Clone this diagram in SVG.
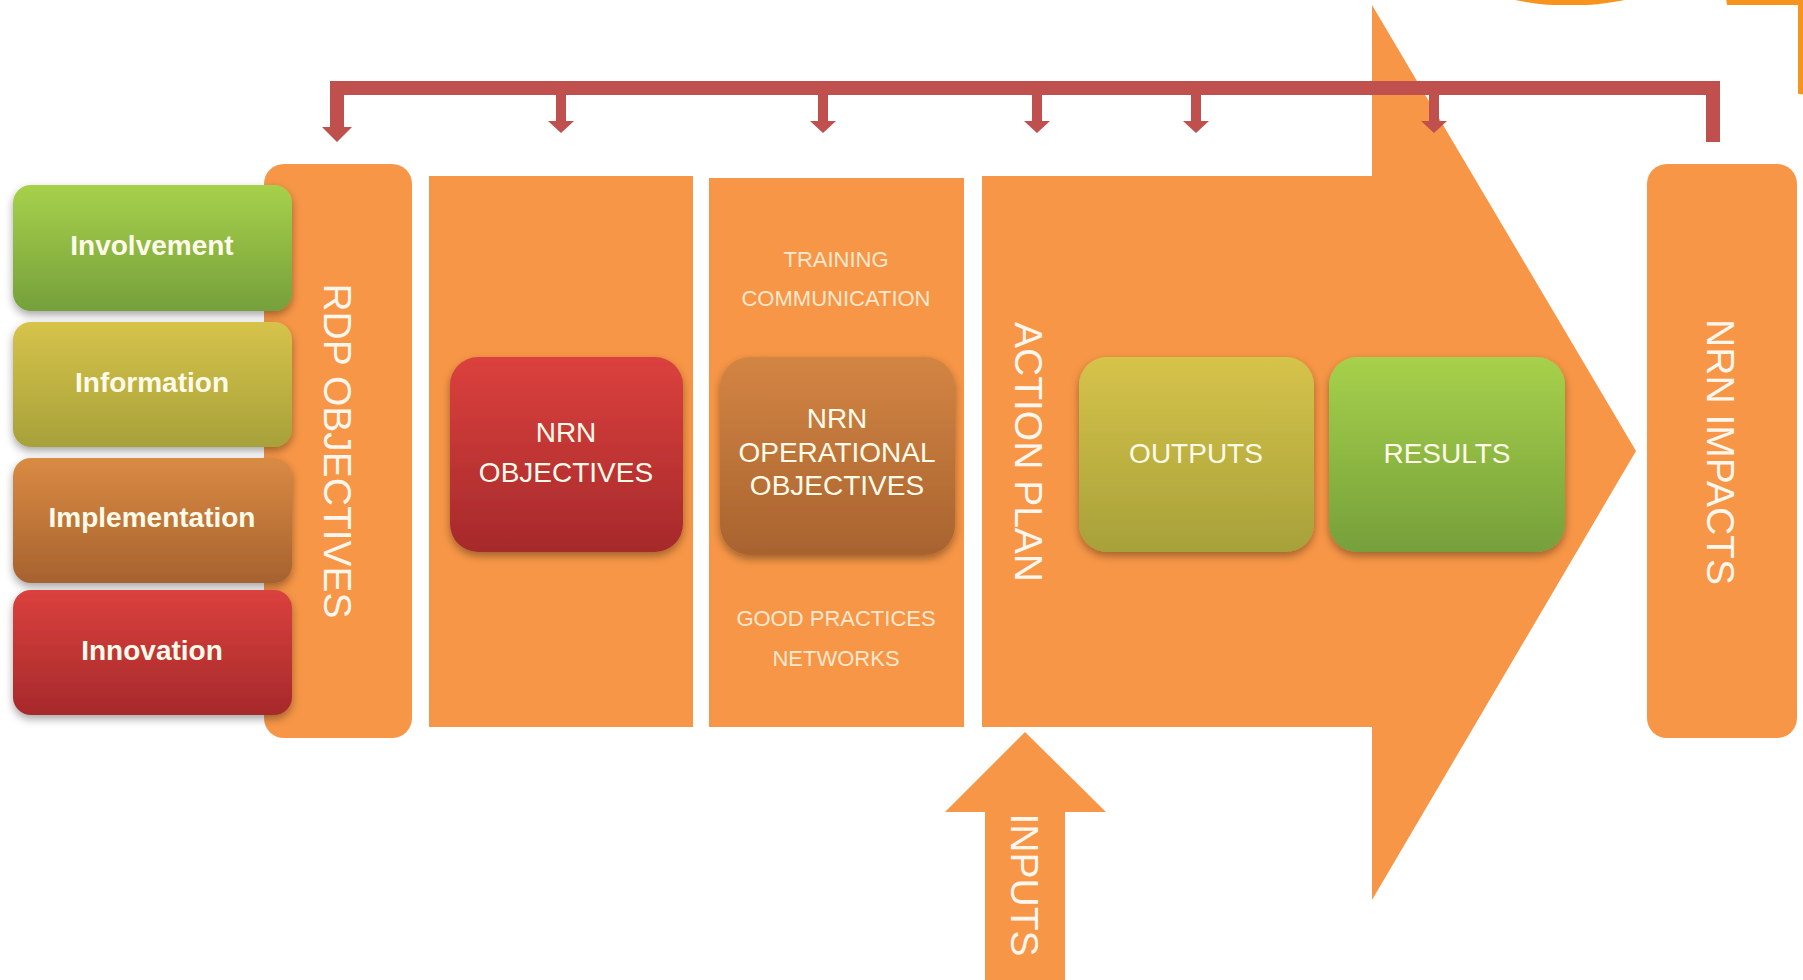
<svg xmlns="http://www.w3.org/2000/svg" width="1803" height="980" viewBox="0 0 1803 980">
<defs>
<style>
.org{fill:#f79646}
.brk{fill:#c0504d}
.lbl{font-family:"Liberation Sans",Arial,sans-serif;font-weight:bold;font-size:28px;fill:#fffbea;text-anchor:middle}
.box{font-family:"Liberation Sans",Arial,sans-serif;font-size:28px;fill:#fffbea;text-anchor:middle}
.small{font-family:"Liberation Sans",Arial,sans-serif;font-size:22px;fill:#fde8cf;text-anchor:middle}
.vert{font-family:"Liberation Sans",Arial,sans-serif;font-size:39px;fill:#fff6ee;text-anchor:middle}
</style>
<linearGradient id="gGreen" x1="0" y1="0" x2="0" y2="1"><stop offset="0" stop-color="#a7d14b"/><stop offset="1" stop-color="#75a03b"/></linearGradient>
<linearGradient id="gOlive" x1="0" y1="0" x2="0" y2="1"><stop offset="0" stop-color="#d6c34a"/><stop offset="1" stop-color="#a7a13a"/></linearGradient>
<linearGradient id="gBrown" x1="0" y1="0" x2="0" y2="1"><stop offset="0" stop-color="#da8b43"/><stop offset="1" stop-color="#a6622f"/></linearGradient>
<linearGradient id="gRed" x1="0" y1="0" x2="0" y2="1"><stop offset="0" stop-color="#db413d"/><stop offset="1" stop-color="#a6292b"/></linearGradient>
<linearGradient id="gOp" x1="0" y1="0" x2="0" y2="1"><stop offset="0" stop-color="#d38543"/><stop offset="1" stop-color="#a8632f"/></linearGradient>
<filter id="sh" x="-10%" y="-10%" width="120%" height="130%"><feDropShadow dx="0" dy="4" stdDeviation="4" flood-color="#000" flood-opacity="0.35"/></filter>
</defs>
<rect width="1803" height="980" fill="#ffffff"/>
<path d="M1515,0 Q1570,11 1625,0 Z" fill="#f7941d"/>
<ellipse cx="1810" cy="-20" rx="85" ry="115" fill="#f7941d"/>
<rect x="0" y="5" width="1798" height="975" fill="#ffffff"/>

<g id="rdp-objectives">
<rect class="org" x="264" y="164" width="148" height="574" rx="20"/>
<text class="vert" font-size="37" transform="translate(337,451) rotate(90)" y="13">RDP OBJECTIVES</text>
</g>
<g id="nrn-objectives-col"><rect class="org" x="429" y="176" width="264" height="551"/></g>
<g id="operational-col">
<rect class="org" x="709" y="178" width="255" height="549"/>
<text class="small" x="836" y="267">TRAINING</text>
<text class="small" x="836" y="306">COMMUNICATION</text>
<text class="small" x="836" y="626">GOOD PRACTICES</text>
<text class="small" x="836" y="666">NETWORKS</text>
</g>
<g id="action-plan">
<polygon class="org" points="982,176 1372,176 1372,5 1636,451 1372,900 1372,727 982,727"/>
<text class="vert" transform="translate(1029,452) rotate(90)" y="14">ACTION PLAN</text>
</g>
<g id="nrn-impacts">
<rect class="org" x="1647" y="164" width="150" height="574" rx="20"/>
<text class="vert" transform="translate(1721,452) rotate(90)" y="14">NRN IMPACTS</text>
</g>
<g id="inputs">
<polygon class="org" points="1025,732 1106,812 1065,812 1065,980 985,980 985,812 945,812"/>
<text class="vert" transform="translate(1025,885) rotate(90)" y="14">INPUTS</text>
</g>

<g id="involvement">
<rect x="13" y="185" width="279" height="126" rx="18" fill="url(#gGreen)" filter="url(#sh)"/>
<text class="lbl" x="152" y="255">Involvement</text>
</g>
<g id="information">
<rect x="13" y="322" width="279" height="125" rx="18" fill="url(#gOlive)" filter="url(#sh)"/>
<text class="lbl" x="152" y="392">Information</text>
</g>
<g id="implementation">
<rect x="13" y="458" width="279" height="125" rx="18" fill="url(#gBrown)" filter="url(#sh)"/>
<text class="lbl" x="152" y="527">Implementation</text>
</g>
<g id="innovation">
<rect x="13" y="590" width="279" height="125" rx="18" fill="url(#gRed)" filter="url(#sh)"/>
<text class="lbl" x="152" y="660">Innovation</text>
</g>

<g id="nrn-objectives">
<rect x="450" y="357" width="233" height="195" rx="28" fill="url(#gRed)" filter="url(#sh)"/>
<text class="box" x="566" y="442">NRN</text>
<text class="box" x="566" y="482">OBJECTIVES</text>
</g>
<g id="nrn-operational-objectives">
<rect x="720" y="357" width="235" height="198" rx="30" fill="url(#gOp)" filter="url(#sh)"/>
<text class="box" font-size="25" x="837" y="428">NRN</text>
<text class="box" font-size="25" x="837" y="462">OPERATIONAL</text>
<text class="box" font-size="25" x="837" y="495">OBJECTIVES</text>
</g>
<g id="outputs">
<rect x="1079" y="357" width="235" height="195" rx="28" fill="url(#gOlive)" filter="url(#sh)"/>
<text class="box" font-size="30" x="1196" y="463">OUTPUTS</text>
</g>
<g id="results">
<rect x="1329" y="357" width="236" height="195" rx="28" fill="url(#gGreen)" filter="url(#sh)"/>
<text class="box" font-size="30" x="1447" y="463">RESULTS</text>
</g>

<g id="connectors">
<rect class="brk" x="330" y="81" width="1390" height="14"/>
<polygon class="brk" points="330,81 344,81 344,127 352,127 337,142 322,127 330,127"/>
<polygon class="brk" points="556,95 566,95 566,121 574,121 561,133 548,121 556,121"/>
<polygon class="brk" points="818,95 828,95 828,121 836,121 823,133 810,121 818,121"/>
<polygon class="brk" points="1032,95 1042,95 1042,121 1050,121 1037,133 1024,121 1032,121"/>
<polygon class="brk" points="1191,95 1201,95 1201,121 1209,121 1196,133 1183,121 1191,121"/>
<polygon class="brk" points="1429,95 1439,95 1439,121 1447,121 1434,133 1421,121 1429,121"/>
<rect class="brk" x="1706" y="81" width="14" height="61"/>
</g>
</svg>
